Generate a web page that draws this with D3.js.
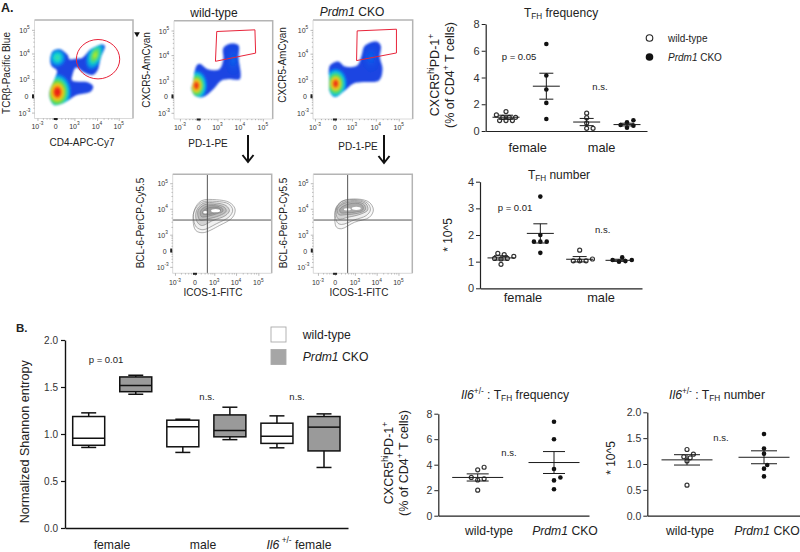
<!DOCTYPE html>
<html><head><meta charset="utf-8">
<script src="https://cdnjs.cloudflare.com/ajax/libs/d3/7.8.5/d3.min.js"></script>
<style>html,body{margin:0;padding:0;background:#fff}svg{display:block}text{font-family:"Liberation Sans",Arial,sans-serif;fill:#222}</style>
</head><body><svg id="c" width="800" height="552"></svg>
<script>
// ---------- data: scatter panels ----------
const groupsA = ["female","male"];
const freqFemaleWT=[1.45,1.2,1.02,1.02,1.02,0.78,0.78,0.78];
const freqFemaleKO=[6.5,4.15,3.1,2.1,0.9];
const freqMaleWT=[1.33,1.0,0.6,0.2,0.2];
const freqMaleKO=[0.8,0.65,0.45,0.4,0.25];
const freqStats=[[1.03,0.15],[3.35,0.97],[0.67,0.27],[0.48,0.1]];
const numFemaleWT=[1.31,1.26,1.2,1.12,1.12,1.1,0.9];
const numFemaleKO=[3.44,2.0,1.75,1.75,1.75,1.33];
const numMaleWT=[1.43,1.1,1.03,1.03,1.03];
const numMaleKO=[1.16,1.06,1.06,1.02,1.0];
const numStats=[[1.14,0.08],[2.06,0.36],[1.09,0.1],[1.05,0.04]];
const il6FreqWT=[3.8,3.6,3.0,2.9,2.8,2.0];
const il6FreqKO=[7.37,6.0,3.66,3.0,2.77,2.07];
const il6FreqStats=[[3.0,0.28],[4.17,0.86]];
const il6NumWT=[1.28,1.19,1.14,1.12,1.06,0.59];
const il6NumKO=[1.58,1.3,1.2,0.98,0.91,0.76];
const il6NumStats=[[1.08,0.1],[1.13,0.125]];
// ---------- data: box plot [low,q1,median,q3,high] ----------
const boxGroups=["female","male","Il6 +/- female"];
const boxValues=[[0.857,0.88,0.956,1.186,1.225],[1.423,1.45,1.515,1.607,1.625],[0.804,0.864,1.076,1.147,1.157],[0.94,0.97,1.037,1.203,1.285],[0.853,0.9,0.977,1.115,1.193],[0.644,0.82,1.073,1.186,1.214]];
// ---------- data: flow panels, in display channels 0-100 ----------
const flowTickLabels=["-3","0","3","4","5"];
const p1Outline=[[16.2,61.8],[18.8,68.5],[25.5,70.2],[33.8,64.2],[35.5,60.2],[43.8,60.8],[48.8,61.8],[57.2,70.2],[68.8,75.2],[71.5,73.5],[67.2,61.8],[63.8,48.5],[58.8,44.2],[50.5,46.8],[42.2,51.8],[38.8,45.2],[38.2,38.5],[53.8,36.8],[59.5,32.8],[57.2,27.5],[42.2,23.5],[30.5,16.2],[20.5,13.5],[16.2,18.5],[15.5,28.5],[20.5,40.2],[22.8,48.5],[17.2,53.5]];
const p2Outline=[[19.3,37.3],[22.7,54],[26,56.3],[34.3,50.7],[46,50.7],[50,60.7],[50,72.3],[57.7,76.7],[65.3,75],[65.3,62.3],[66.7,40.7],[56,40.7],[47.7,39],[39.3,29.7],[29.3,22.3],[21,24],[17.7,30.7]];
const p3Outline=[[16.3,39],[17,54],[25.3,58],[32,53],[44.3,54],[48.7,64],[52,74],[63.7,78.3],[68,74],[67,62.3],[69.7,50.7],[66.3,39],[50.3,37.3],[40.3,35.7],[32,29],[22,22.3],[17,27.3]];
const p2Gate=[[43.3,89],[82,90.7],[82.7,67],[42,58.7]];
const p3Gate=[[44.3,89],[83.7,90.7],[83.7,66.7],[43.7,59]];
const p4Rings=[
[[22.3,65],[29,73.3],[44,74.3],[57.3,71.6],[63,65],[60.6,56.6],[47.3,48.3],[30.6,41],[23.3,43.3],[20.6,53.3]],
[[21.3,61.6],[29,71.6],[44,72.6],[56.6,70],[60.6,64],[57.3,57.3],[44,50],[30.6,44],[24,46.6],[21.3,53.3]],
[[24,63.3],[30.6,70.6],[44,71],[54,68.3],[57.3,63.3],[53.3,58.3],[40.6,53.3],[29,48.3],[24,53.3]],
[[25.6,63.3],[32.3,69.3],[44,69.3],[52.3,66.6],[54,62.6],[47.3,58.3],[35.6,55],[27.3,54]],
[[28,62.6],[34,67.6],[44,68],[50,65.6],[50.6,62.6],[44,60],[34,57.3],[29,57.3]],
[[30.6,62.6],[35.6,66],[44,66.6],[48,65],[48,62.6],[42.3,60.6],[34,59.3],[30.6,60]]];
const p5Rings=[
[[22.4,63.3],[28.4,72.6],[45,75],[56.7,71.6],[60.7,64],[56.7,56.6],[41.7,51.6],[28.4,45],[23.4,46.6],[21.7,53.3]],
[[22.4,65],[29,72.6],[45,74.3],[55,70.6],[57.7,64],[53.4,58.3],[41.7,54],[28.4,49.3],[24,51.6]],
[[23.4,65],[30,71.6],[45,73.3],[53.4,70],[55,64],[48.4,60],[35,56.6],[25,55]],
[[24.4,65],[31,70.6],[45,72],[51.7,69],[52.4,64],[45,60.6],[33.4,59.3],[25.7,59.3]],
[[26.7,64.6],[33.4,69.3],[45,70.6],[50,68],[50,64],[43.4,62],[33.4,61],[27.7,61.3]]];

const svg=d3.select("#c");
const defs=svg.append("defs");
defs.append("filter").attr("id","soft").append("feGaussianBlur").attr("stdDeviation",1);
defs.append("filter").attr("id","softer").append("feGaussianBlur").attr("stdDeviation",0.5);
function grad(id,stops){const g=defs.append("radialGradient").attr("id",id);
  stops.forEach(s=>g.append("stop").attr("offset",s[0]).attr("stop-color",s[1]).attr("stop-opacity",s[2]===undefined?1:s[2]));}
grad("hot",[[0,"#e8121a"],[.2,"#f0340f"],[.36,"#f7c71a"],[.54,"#5fdc3c"],[.7,"#12d0c8"],[.86,"#0a7ff0",.9],[1,"#1040e0",0]]);
grad("hot2",[[0,"#ee2a18"],[.16,"#ee4a12"],[.32,"#eed020"],[.5,"#50dc50"],[.68,"#10c8d8"],[.85,"#0a70f0",.9],[1,"#1040e0",0]]);
grad("green",[[0,"#c6e82c"],[.25,"#6ce04a"],[.52,"#12cdc8"],[.8,"#0a80ee",.9],[1,"#1040e0",0]]);
grad("cyan",[[0,"#3fe0a0"],[.35,"#12d4d0"],[.7,"#0a80ee",.9],[1,"#1040e0",0]]);
grad("ridge",[[0,"#0a64ee"],[1,"#1040e0",0]]);

// rich text: segments [text, style] style: i italic, sub, sup
function rich(sel,segs,fs){
  let pending=0;
  segs.forEach(s=>{
    const t=sel.append("tspan").text(s[0]);
    const st=s[1]||"";
    let dy=pending;
    if(st==="sub"){t.style("font-size",(fs*0.68)+"px");dy+=fs*0.28;pending=-fs*0.28;}
    else if(st==="sup"){t.style("font-size",(fs*0.68)+"px");dy+=-fs*0.36;pending=fs*0.36;}
    else pending=0;
    if(dy) t.attr("dy",dy);
    if(st==="i") t.style("font-style","italic");
  });
  return sel;
}
function label(x,y,segs,opt={}){
  const fs=opt.fs||11;
  const g=svg.append("text").attr("text-anchor",opt.anchor||"middle").attr("dominant-baseline","central")
    .style("font-size",fs+"px").attr("transform",`translate(${x},${y})`+(opt.rot?` rotate(${opt.rot})`:""));
  if(opt.bold) g.style("font-weight","bold");
  if(opt.fill) g.style("fill",opt.fill);
  rich(g,typeof segs==="string"?[[segs]]:segs,fs);
  return g;
}

// ---------- flow panels ----------
function flowPanel(o){
  const x=d3.scaleLinear().domain([0,100]).range([o.l,o.r]);
  const y=d3.scaleLinear().domain([0,100]).range([o.b,o.t]);
  const g=svg.append("g");
  const line=d3.line().x(d=>x(d[0])).y(d=>y(d[1])).curve(d3.curveCatmullRomClosed.alpha(0.5));
  g.append("rect").attr("x",o.l).attr("y",o.t).attr("width",o.r-o.l).attr("height",o.b-o.t).attr("fill","#fff");
  const dens=g.append("g").attr("filter","url(#soft)");
  if(o.outline){
    const clipId="cl"+o.id;
    defs.append("clipPath").attr("id",clipId).append("path").attr("d",line(o.outline));
    dens.append("path").attr("d",line(o.outline)).attr("fill","#1b45e2");
    const inner=dens.append("g").attr("clip-path",`url(#${clipId})`);
    (o.spots||[]).forEach(s=>{
      const cx=x(s.c[0]),cy=y(s.c[1]);
      inner.append("ellipse").attr("cx",0).attr("cy",0).attr("rx",x(s.c[0]+s.r[0])-cx).attr("ry",cy-y(s.c[1]+s.r[1]))
        .attr("transform",`translate(${cx},${cy}) rotate(${s.rot||0})`).attr("fill",`url(#${s.g})`);
    });
  }
  if(o.rings){
    const cg=g.append("g").attr("filter","url(#softer)");
    o.rings.forEach((r,i)=>cg.append("path").attr("d",line(r)).attr("fill","#666").attr("fill-opacity",i<2?0.05:0.2)
      .attr("stroke","#7c7c7c").attr("stroke-width",0.6));
    (o.holes||[]).forEach(h=>{cg.append("ellipse").attr("cx",x(h[0])).attr("cy",y(h[1])).attr("rx",h[2]).attr("ry",h[3]).attr("fill","#fff");});
    g.append("line").attr("x1",x(o.q[0])).attr("x2",x(o.q[0])).attr("y1",o.t).attr("y2",o.b).attr("stroke","#555").attr("stroke-width",1);
    g.append("line").attr("y1",y(o.q[1])).attr("y2",y(o.q[1])).attr("x1",o.l).attr("x2",o.r).attr("stroke","#555").attr("stroke-width",1);
  }
  if(o.gate) g.append("path").attr("d",d3.line().x(d=>x(d[0])).y(d=>y(d[1])).curve(d3.curveLinearClosed)(o.gate)).attr("fill","none").attr("stroke","#e8243a").attr("stroke-width",1);
  if(o.circle) g.append("ellipse").attr("cx",x(o.circle[0])).attr("cy",y(o.circle[1])).attr("rx",x(o.circle[0]+o.circle[2])-x(o.circle[0])).attr("ry",y(o.circle[1])-y(o.circle[1]+o.circle[3])).attr("fill","none").attr("stroke","#e8243a").attr("stroke-width",1);
  // frame
  g.append("path").attr("d",`M${o.l},${o.t}H${o.r}V${o.b}`).attr("fill","none").attr("stroke","#b4b4b4").attr("stroke-width",1.5);
  g.append("path").attr("d",`M${o.l},${o.t}V${o.b}H${o.r}`).attr("fill","none").attr("stroke","#d0d0d0").attr("stroke-width",0.8);
  // ticks: majors from channels, minors between them
  function minors(t){const m=[];for(let i=0;i<t.length-1;i++){for(const f of [.3,.5,.66,.8,.9])m.push(t[i]+(t[i+1]-t[i])*f);}return m;}
  const ax=g.append("g").attr("transform",`translate(0,${o.b})`);
  const ay=g.append("g").attr("transform",`translate(${o.l},0)`);
  [[o.xt,2.5],[minors(o.xt),1.2]].forEach(([v,len])=>{
    const s=ax.append("g").call(d3.axisBottom(x).tickValues(v).tickSize(len).tickSizeOuter(0).tickFormat(""));
    s.select(".domain").remove(); s.selectAll("line").attr("stroke","#777").attr("stroke-width",.5);
    const s2=ay.append("g").call(d3.axisLeft(y).tickValues(v===o.xt?o.yt:minors(o.yt)).tickSize(len).tickSizeOuter(0).tickFormat(""));
    s2.select(".domain").remove(); s2.selectAll("line").attr("stroke","#777").attr("stroke-width",.5);
  });
  // pile-up at zero
  g.append("rect").attr("x",x(o.xt[1])-2).attr("y",o.b-0.5).attr("width",4).attr("height",2).attr("fill","#222");
  g.append("rect").attr("x",o.l-2.5).attr("y",y(o.yt[1])-2).attr("width",2).attr("height",4).attr("fill","#222");
  flowTickLabels.forEach((lab,i)=>{
    const segs=lab==="0"?[["0"]]:[["10"],[lab,"sup"]];
    label(x(o.xt[i]),o.b+(o.xly||7.5),segs,{fs:7,fill:"#333"});
    label(o.l-(lab==="0"?8:10),y(o.yt[i]),segs,{fs:7,fill:"#333"});
  });
}
flowPanel({id:1,l:34.5,r:133,t:20,b:118.5,outline:p1Outline,
  xt:[3,21.5,40.5,63.5,85.5],yt:[6,22.5,40,66,90],
  spots:[{c:[23.2,26.8],r:[15,20],g:"hot"},{c:[23.2,61.8],r:[10,11],g:"cyan"},{c:[61.5,64.2],r:[9,17],g:"green",rot:22}],
  circle:[64.5,60.2,22,20]});
flowPanel({id:2,l:174,r:272.7,t:20.7,b:119,outline:p2Outline,
  xt:[6,25,44,66.7,90],yt:[6.3,23,39,65,90],
  spots:[{c:[22.7,34],r:[12,17],g:"hot2"},{c:[60,60],r:[10,18],g:"ridge"}],gate:p2Gate});
flowPanel({id:3,l:313,r:412.7,t:20,b:119,outline:p3Outline,
  xt:[2,22,39,63,86],yt:[6.3,23,39,66,90],
  spots:[{c:[22.7,35.7],r:[12.5,17],g:"hot2"},{c:[58,62],r:[11,17],g:"ridge"}],gate:p3Gate});
flowPanel({id:4,l:172.7,r:271.7,t:174.3,b:273.3,rings:p4Rings,q:[35,53.8],holes:[[33,61.6,2.2,1.3],[43.3,63.3,4.5,1.6]],
  xt:[2.3,22.5,42,64,86.5],yt:[6.5,23,39,65.2,91],xly:9});
flowPanel({id:5,l:313.3,r:412.3,t:174.3,b:273.3,rings:p5Rings,q:[34.7,53.8],holes:[[34.4,64.6,3.5,1.2],[43.4,65.6,4.5,1.6]],
  xt:[4.7,22,42,64,86],yt:[6.5,23,39,65.2,91],xly:9});
label(6,73,"TCRβ-Pacific Blue",{rot:-90,fs:10});
label(82,142,"CD4-APC-Cy7",{fs:10});
label(214,13,"wild-type",{fs:12});
label(146,70,"CXCR5-AmCyan",{rot:-90,fs:10});
label(208,143,"PD-1-PE",{fs:10});
label(352,12,[["Prdm1","i"],[" CKO"]],{fs:12});
label(282,65,"CXCR5-AmCyan",{rot:-90,fs:10});
label(358,146,"PD-1-PE",{fs:10});
label(140,223,"BCL-6-PerCP-Cy5.5",{rot:-90,fs:10});
label(283,223,"BCL-6-PerCP-Cy5.5",{rot:-90,fs:10});
label(213,292,"ICOS-1-FITC",{fs:10});
label(359,292,"ICOS-1-FITC",{fs:10});
label(1,8,"A.",{anchor:"start",bold:true,fs:12.5});
// small marker and flow arrows
svg.append("path").attr("d",d3.symbol(d3.symbolTriangle,14)()).attr("transform","translate(137,34) rotate(180)").attr("fill","#111");
[[248,135,162],[384,135,163]].forEach(([x,a,b])=>{
  svg.append("path").attr("d",`M${x},${a}V${b}M${x-5.5},${b-7}L${x},${b}L${x+5.5},${b-7}`).attr("fill","none").attr("stroke","#111").attr("stroke-width",2);
});

// ---------- scatter panels ----------
function swarm(vals,y,cx,d){
  const placed=[];
  [...vals].sort((a,b)=>a-b).forEach(v=>{
    const py=y(v);
    for(const k of [0,1,-1,2,-2,3,-3,4,-4]){
      const px=cx+k*d/2;
      if(placed.every(p=>Math.hypot(p[0]-px,p[1]-py)>=d*0.68)){placed.push([px,py]);break;}
    }
  });
  return placed;
}
function scatter(o){
  const y=d3.scaleLinear().domain(o.dom).range([o.y0,o.y1]);
  const x=d3.scaleLinear().domain([0,o.series.length-1]).range(o.cx);
  const g=svg.append("g");
  const ya=g.append("g").attr("transform",`translate(${o.ax},0)`).call(d3.axisLeft(y).tickValues(o.ticks).tickFormat(o.fmt).tickSize(4).tickSizeOuter(0));
  ya.select(".domain").attr("stroke","#222").attr("stroke-width",1.2);
  ya.selectAll("line").attr("stroke","#222").attr("stroke-width",1);
  ya.selectAll("text").style("font-size",(o.tfs||11)+"px").style("fill","#333").attr("x",-6);
  const xa=g.append("g").attr("transform",`translate(0,${o.y0})`).call(d3.axisBottom(d3.scaleLinear().domain([0,1]).range([o.ax,o.xEnd])).tickValues([]).tickSizeOuter(0));
  xa.select(".domain").attr("stroke","#222").attr("stroke-width",1.2);
  o.series.forEach((vals,i)=>{
    const open=i%2===0, c=x(i), [m,e]=o.stats[i];
    swarm(vals,y,c,6.4).forEach(p=>{
      g.append("circle").attr("cx",p[0]).attr("cy",p[1]).attr("r",open?2:2.3)
        .attr("fill",open?"#fff":"#111").attr("stroke",open?"#333":"none").attr("stroke-width",1.2);
    });
    const L=o.meanW/2, C=o.capW/2;
    const seg=(a,b,c2,d2)=>g.append("line").attr("x1",a).attr("x2",b).attr("y1",c2).attr("y2",d2).attr("stroke","#1a1a1a").attr("stroke-width",1);
    seg(c-L,c+L,y(m),y(m)); seg(c-C,c+C,y(m+e),y(m+e)); seg(c-C,c+C,y(m-e),y(m-e)); seg(c,c,y(m+e),y(m-e));
  });
}
const intFmt=d3.format("d"), oneFmt=d3.format(".1f");
scatter({dom:[0,8],y0:131,y1:24,ax:485.7,xEnd:647,cx:[506,627],ticks:[0,2,4,6,8],fmt:intFmt,
  series:[freqFemaleWT,freqFemaleKO,freqMaleWT,freqMaleKO],stats:freqStats,meanW:27,capW:14});
scatter({dom:[0,4],y0:288.3,y1:181.7,ax:480,xEnd:642,cx:[501,619],ticks:[0,1,2,3,4],fmt:intFmt,
  series:[numFemaleWT,numFemaleKO,numMaleWT,numMaleKO],stats:numStats,meanW:27,capW:14});
scatter({dom:[0,8],y0:515.7,y1:413.7,ax:438.3,xEnd:589,cx:[477.7,554],ticks:[0,2,4,6,8],fmt:intFmt,
  series:[il6FreqWT,il6FreqKO],stats:il6FreqStats,meanW:51,capW:22,tfs:10.5});
scatter({dom:[0,2],y0:515.7,y1:412.3,ax:647.3,xEnd:800,cx:[687,764],ticks:[0,.5,1,1.5,2],fmt:oneFmt,
  series:[il6NumWT,il6NumKO],stats:il6NumStats,meanW:51,capW:26,tfs:10.5});
label(561,13,[["T"],["FH","sub"],[" frequency"]],{fs:12});
label(519,56,"p = 0.05",{fs:9.5});
label(600,86,"n.s.",{fs:9.5});
label(435,75,[["CXCR5"],["hi","sup"],["PD-1"],["+","sup"]],{rot:-90,fs:12.5});
label(450,75,[["(% of CD4"],["+","sup"],[" T cells)"]],{rot:-90,fs:12.5});
label(527.7,147,groupsA[0],{fs:12.8});
label(601.6,147,groupsA[1],{fs:12.8});
svg.append("circle").attr("cx",649.5).attr("cy",38).attr("r",3.3).attr("fill","#fff").attr("stroke","#222").attr("stroke-width",1.1);
svg.append("circle").attr("cx",649.5).attr("cy",57).attr("r",3.8).attr("fill","#111");
label(668,38,"wild-type",{anchor:"start",fs:10});
label(668,57,[["Prdm1","i"],[" CKO"]],{anchor:"start",fs:10});
label(559,175,[["T"],["FH","sub"],[" number"]],{fs:12});
label(515,206.7,"p = 0.01",{fs:9.5});
label(602.7,229,"n.s.",{fs:9.5});
label(448,235,"* 10^5",{rot:-90,fs:12});
label(523,297,groupsA[0],{fs:12.8});
label(601,297,groupsA[1],{fs:12.8});
label(515,395,[["Il6","i"],["+/-","sup"],[" : T"],["FH","sub"],[" frequency"]],{fs:12.2});
label(509,451.7,"n.s.",{fs:9.5});
label(389,463,[["CXCR5"],["hi","sup"],["PD-1"],["+","sup"]],{rot:-90,fs:12.5});
label(404,463,[["(% of CD4"],["+","sup"],[" T cells)"]],{rot:-90,fs:12.5});
label(489,531,"wild-type",{fs:12.2});
label(565,531,[["Prdm1","i"],[" CKO"]],{fs:12.2});
label(717,395,[["Il6","i"],["+/-","sup"],[" : T"],["FH","sub"],[" number"]],{fs:12.2});
label(721,437,"n.s.",{fs:9.5});
label(610.7,458,"* 10^5",{rot:-90,fs:12});
label(690,531,"wild-type",{fs:12.2});
label(767,531,[["Prdm1","i"],[" CKO"]],{fs:12.2});

// ---------- box plot ----------
const bx=d3.scaleLinear().domain([0,5]).range([88.7,324]);
const by=d3.scaleLinear().domain([0,2]).range([528,340]);
const bg=svg.append("g");
const bya=bg.append("g").attr("transform","translate(65,0)").call(d3.axisLeft(by).tickValues([0,.5,1,1.5,2]).tickFormat(oneFmt).tickSize(4).tickSizeOuter(0));
bya.select(".domain").attr("stroke","#111").attr("stroke-width",1.4);
bya.selectAll("line").attr("stroke","#111").attr("stroke-width",1.2);
bya.selectAll("text").style("font-size","10px").style("fill","#333").attr("x",-7);
const bxa=bg.append("g").attr("transform","translate(0,528)").call(d3.axisBottom(d3.scaleLinear().domain([0,1]).range([65,348])).tickValues([]).tickSizeOuter(0));
bxa.select(".domain").attr("stroke","#111").attr("stroke-width",1.4);
boxValues.forEach((b,i)=>{
  const c=bx(i),[lo,q1,md,q3,hi]=b,w=32,cap=15;
  const L=(x1,x2,y1,y2)=>bg.append("line").attr("x1",x1).attr("x2",x2).attr("y1",y1).attr("y2",y2).attr("stroke","#111").attr("stroke-width",1.5);
  L(c,c,by(hi),by(lo));
  L(c-cap/2,c+cap/2,by(hi),by(hi)); L(c-cap/2,c+cap/2,by(lo),by(lo));
  bg.append("rect").attr("x",c-w/2).attr("width",w).attr("y",by(q3)).attr("height",by(q1)-by(q3))
    .attr("fill",i%2?"#9a9a9a":"#fff").attr("stroke","#111").attr("stroke-width",1.5);
  L(c-w/2,c+w/2,by(md),by(md));
});
label(16,328,"B.",{anchor:"start",bold:true,fs:11.5});
label(106,359,"p = 0.01",{fs:9.5});
label(207,396,"n.s.",{fs:9.5});
label(297,396,"n.s.",{fs:9.5});
label(25,441.7,"Normalized Shannon entropy",{rot:-90,fs:12.6});
label(112,544.5,boxGroups[0],{fs:12.2});
label(203,544.5,boxGroups[1],{fs:12.2});
label(299,544.5,[["Il6","i"],[" +/-","sup"],[" female"]],{fs:12.2});
[[327,"#fff"],[349.5,"#a6a6a6"]].forEach(([yy,f])=>svg.append("rect").attr("x",271).attr("y",yy).attr("width",15).attr("height",15).attr("fill",f).attr("stroke","#aaa").attr("stroke-width",.9));
label(302.7,335,"wild-type",{anchor:"start",fs:12.2});
label(302.7,357,[["Prdm1","i"],[" CKO"]],{anchor:"start",fs:12.2});
</script></body></html>
